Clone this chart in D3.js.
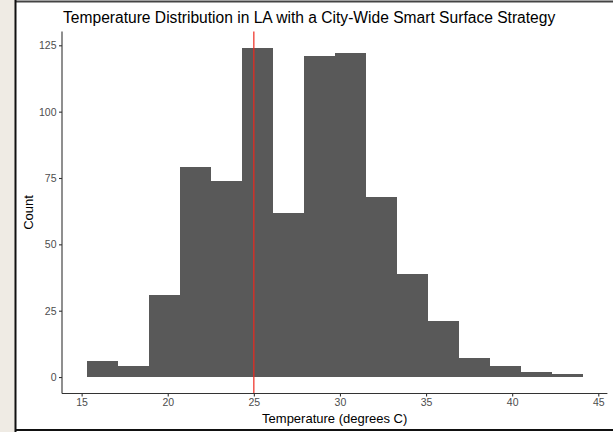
<!DOCTYPE html>
<html>
<head>
<meta charset="utf-8">
<script src="https://cdn.jsdelivr.net/npm/d3@7"></script>
<style>
  html, body { margin: 0; padding: 0; background: #ffffff; }
  svg { display: block; font-family: "Liberation Sans", Arial, sans-serif; }
</style>
</head>
<body>
<svg id="chart" width="613" height="432"></svg>
<script>
// ---- data ----
const binEdges = [15.30, 17.10, 18.90, 20.70, 22.50, 24.30, 26.10, 27.90, 29.70,
                  31.50, 33.29, 35.09, 36.89, 38.69, 40.49, 42.29, 44.09];
const counts = [6, 4, 31, 79, 74, 124, 62, 121, 122, 68, 39, 21, 7, 4, 2, 1];
const xTicks = [15, 20, 25, 30, 35, 40, 45];
const yTicks = [0, 25, 50, 75, 100, 125];
const refLine = 25;
const title = "Temperature Distribution in LA with a City-Wide Smart Surface Strategy";
const xLabel = "Temperature (degrees C)";
const yLabel = "Count";

const bins = counts.map((c, i) => ({ x0: binEdges[i], x1: binEdges[i + 1], count: c }));

const svg = d3.select("#chart");

// frame (screenshot border)
svg.append("rect").attr("x", 0).attr("y", 0).attr("width", 613).attr("height", 432).attr("fill", "#ffffff");
svg.append("rect").attr("x", 0).attr("y", 0).attr("width", 15).attr("height", 432).attr("fill", "#efebe4");
svg.append("line").attr("x1", 15).attr("x2", 613).attr("y1", 1.5).attr("y2", 1.5).attr("stroke", "#444").attr("stroke-width", 2);
svg.append("line").attr("x1", 15.5).attr("x2", 15.5).attr("y1", 0).attr("y2", 432).attr("stroke", "#111").attr("stroke-width", 2);
svg.append("line").attr("x1", 15).attr("x2", 613).attr("y1", 430).attr("y2", 430).attr("stroke", "#111").attr("stroke-width", 2);

// panel
const panel = { left: 62, right: 607.4, top: 31.5, bottom: 393.5 };

const xmin = d3.min([binEdges[0], refLine]);
const xmax = d3.max([binEdges[binEdges.length - 1], refLine]);
const xpad = (xmax - xmin) * 0.05;
const x = d3.scaleLinear().domain([xmin - xpad, xmax + xpad]).range([panel.left, panel.right]);

const ymax = d3.max(counts);
const ypad = ymax * 0.05;
const y = d3.scaleLinear().domain([-ypad, ymax + ypad]).range([panel.bottom, panel.top]);

// bars
svg.append("g").attr("shape-rendering", "crispEdges")
  .selectAll("rect").data(bins).join("rect")
  .attr("x", d => x(d.x0))
  .attr("width", d => x(d.x1) - x(d.x0) + 0.4)
  .attr("y", d => y(d.count))
  .attr("height", d => y(0) - y(d.count))
  .attr("fill", "#595959");

// reference line
svg.append("line")
  .attr("x1", x(refLine)).attr("x2", x(refLine))
  .attr("y1", panel.top).attr("y2", panel.bottom)
  .attr("stroke", "#ee2a1f").attr("stroke-width", 1.2);

// axes
const xAxis = svg.append("g").attr("transform", `translate(0,${panel.bottom})`)
  .call(d3.axisBottom(x).tickValues(xTicks).tickSize(3).tickPadding(2.5).tickFormat(d3.format("d")));
const yAxis = svg.append("g").attr("transform", `translate(${panel.left},0)`)
  .call(d3.axisLeft(y).tickValues(yTicks).tickSize(3).tickPadding(2.5).tickFormat(d3.format("d")));

[xAxis, yAxis].forEach(g => {
  g.selectAll(".tick line").attr("stroke", "#333333").attr("stroke-width", 1.1);
  g.selectAll(".tick text").attr("fill", "#4d4d4d")
    .style("font-family", "'Liberation Sans', Arial, sans-serif").style("font-size", "10.5px");
});
// replace domain paths with plain lines spanning the panel
xAxis.select(".domain").remove();
yAxis.select(".domain").remove();
svg.append("line").attr("x1", panel.left).attr("x2", panel.right)
  .attr("y1", panel.bottom).attr("y2", panel.bottom).attr("stroke", "#333").attr("stroke-width", 1.1);
svg.append("line").attr("x1", panel.left).attr("x2", panel.left)
  .attr("y1", panel.top).attr("y2", panel.bottom).attr("stroke", "#333").attr("stroke-width", 1.1);

// title
svg.append("text").attr("x", 63).attr("y", 23)
  .attr("fill", "#000").style("font-size", "15.6px").text(title);

// axis labels
svg.append("text").attr("x", (panel.left + panel.right) / 2).attr("y", 423)
  .attr("text-anchor", "middle").attr("fill", "#000").style("font-size", "13px").text(xLabel);
svg.append("text").attr("transform", `translate(33,${(panel.top + panel.bottom) / 2}) rotate(-90)`)
  .attr("text-anchor", "middle").attr("fill", "#000").style("font-size", "13px").text(yLabel);
</script>
</body>
</html>
